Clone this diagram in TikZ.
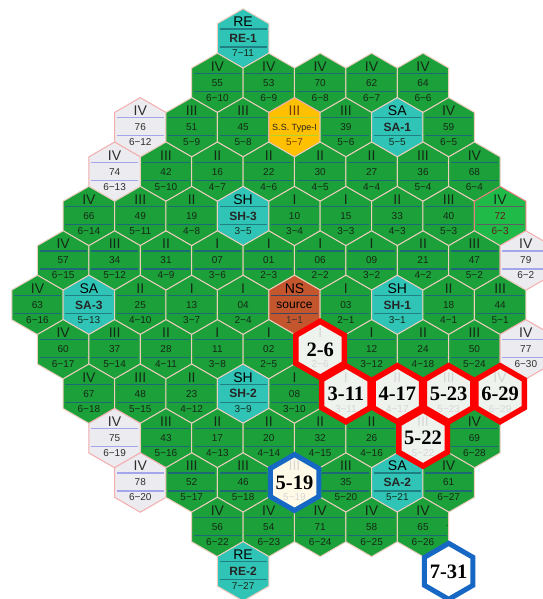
\documentclass[tikz,border=0pt]{standalone}
\usepackage{fontspec}
\setmainfont{Liberation Sans}
\newfontfamily\bigserif{Liberation Serif}
\usetikzlibrary{shapes.geometric}

\definecolor{cgreen}{RGB}{27,160,58}
\definecolor{cedge}{RGB}{238,205,190}
\definecolor{cgsep}{RGB}{30,105,118}
\definecolor{ctxt}{RGB}{22,40,22}
\definecolor{cteal}{RGB}{48,196,182}
\definecolor{ctsep}{RGB}{30,128,130}
\definecolor{cyellow}{RGB}{255,192,0}
\definecolor{cysep}{RGB}{175,212,45}
\definecolor{cybrown}{RGB}{110,60,10}
\definecolor{cns}{RGB}{196,86,45}
\definecolor{cnsep}{RGB}{60,72,95}
\definecolor{cgray}{RGB}{236,236,240}
\definecolor{cpink}{RGB}{244,172,172}
\definecolor{cgrsep}{RGB}{165,165,235}
\definecolor{cgrtxt}{RGB}{45,45,45}
\definecolor{clgreen}{RGB}{32,186,72}
\definecolor{clgedge}{RGB}{232,125,125}
\definecolor{clgsep}{RGB}{95,95,95}
\definecolor{credtxt}{RGB}{95,28,28}
\definecolor{cred}{RGB}{255,0,0}
\definecolor{cblue}{RGB}{22,104,196}
\definecolor{credfill}{RGB}{238,243,238}
\definecolor{ccream}{RGB}{255,250,232}

\tikzset{
  hexbase/.style={regular polygon, regular polygon sides=6, shape border rotate=30,
    minimum size=59.4pt, inner sep=0pt, outer sep=0pt, line width=1pt},
  lbl/.style={inner sep=0pt, text depth=0pt},
  % green
  green hex/.style={hexbase, fill=cgreen, draw=cedge},
  green sep/.style={draw=cgsep, line width=1.1pt},
  green top/.style={lbl, text=ctxt, font=\fontsize{14}{14}\selectfont},
  green mid/.style={lbl, text=ctxt, font=\fontsize{10}{10}\selectfont},
  green bot/.style={lbl, text=ctxt, font=\fontsize{10}{10}\selectfont},
  % light green
  lgreen hex/.style={hexbase, fill=clgreen, draw=clgedge},
  lgreen sep/.style={draw=clgsep, line width=1.3pt},
  lgreen top/.style={lbl, text=ctxt, font=\fontsize{14}{14}\selectfont},
  lgreen mid/.style={lbl, text=credtxt, font=\fontsize{10}{10}\selectfont},
  lgreen bot/.style={lbl, text=credtxt, font=\fontsize{10}{10}\selectfont},
  % gray
  gray hex/.style={hexbase, fill=cgray, draw=cpink},
  gray sep/.style={draw=cgrsep, line width=1.1pt},
  gray top/.style={lbl, text=cgrtxt, font=\fontsize{14}{14}\selectfont},
  gray mid/.style={lbl, text=cgrtxt, font=\fontsize{10}{10}\selectfont},
  gray bot/.style={lbl, text=cgrtxt, font=\fontsize{10}{10}\selectfont},
  % teal
  teal hex/.style={hexbase, fill=cteal, draw=cedge},
  teal sep/.style={draw=ctsep, line width=1.1pt},
  teal top/.style={lbl, text=black, font=\fontsize{14}{14}\selectfont},
  teal mid/.style={lbl, text=black!85, font=\bfseries\fontsize{12}{12}\selectfont},
  teal bot/.style={lbl, text=ctxt, font=\fontsize{10}{10}\selectfont},
  % yellow
  yellow hex/.style={hexbase, fill=cyellow, draw=cpink},
  yellow sep/.style={draw=cysep, line width=1.3pt},
  yellow top/.style={lbl, text=cybrown, font=\fontsize{14}{14}\selectfont},
  yellow mid/.style={lbl, text=black!85, font=\fontsize{9}{9}\selectfont},
  yellow bot/.style={lbl, text=cybrown, font=\fontsize{10}{10}\selectfont},
  % NS source
  ns hex/.style={hexbase, fill=cns, draw=cedge},
  ns sep/.style={draw=cnsep, line width=1.1pt},
  ns top/.style={lbl, text=black, font=\fontsize{14}{14}\selectfont},
  ns mid/.style={lbl, text=black, font=\fontsize{12}{12}\selectfont},
  ns bot/.style={lbl, text=black!80, font=\fontsize{10}{10}\selectfont},
  % highlighted cells
  bigbase/.style={regular polygon, regular polygon sides=6, shape border rotate=30,
    minimum size=56pt, inner sep=0pt, outer sep=0pt},
  red big/.style={bigbase, draw=cred, line width=5.5pt, fill=credfill},
  blue big/.style={bigbase, draw=cblue, line width=5pt, fill=ccream},
  white big/.style={bigbase, draw=cblue, line width=5pt, fill=white},
  faint top/.style={lbl, text=black!16, font=\fontsize{14}{14}\selectfont},
  faint bot/.style={lbl, text=black!16, font=\fontsize{10}{10}\selectfont},
  bigtxt/.style={lbl, text=black, font=\bigserif\bfseries\fontsize{20.5}{20.5}\selectfont},
}

% #1 name, #2 column, #3 row, #4 type, #5 top, #6 middle, #7 bottom
\newcommand\hexcell[7]{%
  \node[#4 hex] (#1) at ({37.5+25.7*#2},{38.5+44.4*#3}) {};
  \draw[#4 sep] ([shift={(-23.5pt,9.5pt)}]#1.center) -- ([shift={(23.5pt,9.5pt)}]#1.center);
  \draw[#4 sep] ([shift={(-23.5pt,-8.5pt)}]#1.center) -- ([shift={(23.5pt,-8.5pt)}]#1.center);
  \node[#4 top] (#1t) at ([yshift=16.5pt]#1.center) {#5};
  \node[#4 mid] (#1m) at (#1.center) {#6};
  \node[#4 bot] (#1b) at ([yshift=-15pt]#1.center) {#7};
}
% #1 name, #2 column, #3 row, #4 type, #5 big label, #6 faint top, #7 faint bottom
\newcommand\bigcell[7]{%
  \node[#4 big] (#1) at ({37.5+25.7*#2},{38.5+44.4*#3}) {};
  \node[faint top] (#1t) at ([yshift=16.5pt]#1.center) {#6};
  \node[faint bot] (#1b) at ([yshift=-15pt]#1.center) {#7};
  \node[bigtxt] (#1m) at (#1.center) {#5};
}

\begin{document}
\begin{tikzpicture}[x=1pt,y=-1pt]
\useasboundingbox (0,0) rectangle (542,599);
\fill[white] (0,0) rectangle (542,599);

% row 0
\hexcell{nRE1}{8}{0}{teal}{RE}{RE-1}{7−11}
% row 1
\hexcell{n55}{7}{1}{green}{IV}{55}{6−10}
\hexcell{n53}{9}{1}{green}{IV}{53}{6−9}
\hexcell{n70}{11}{1}{green}{IV}{70}{6−8}
\hexcell{n62}{13}{1}{green}{IV}{62}{6−7}
\hexcell{n64}{15}{1}{green}{IV}{64}{6−6}
% row 2
\hexcell{n76}{4}{2}{gray}{IV}{76}{6−12}
\hexcell{n51}{6}{2}{green}{III}{51}{5−9}
\hexcell{n45}{8}{2}{green}{III}{45}{5−8}
\hexcell{nSS}{10}{2}{yellow}{III}{S.S. Type-I}{5−7}
\hexcell{n39}{12}{2}{green}{III}{39}{5−6}
\hexcell{nSA1}{14}{2}{teal}{SA}{SA-1}{5−5}
\hexcell{n59}{16}{2}{green}{IV}{59}{6−5}
% row 3
\hexcell{n74}{3}{3}{gray}{IV}{74}{6−13}
\hexcell{n42}{5}{3}{green}{III}{42}{5−10}
\hexcell{n16}{7}{3}{green}{II}{16}{4−7}
\hexcell{n22}{9}{3}{green}{II}{22}{4−6}
\hexcell{n30}{11}{3}{green}{II}{30}{4−5}
\hexcell{n27}{13}{3}{green}{II}{27}{4−4}
\hexcell{n36}{15}{3}{green}{III}{36}{5−4}
\hexcell{n68}{17}{3}{green}{IV}{68}{6−4}
% row 4
\hexcell{n66}{2}{4}{green}{IV}{66}{6−14}
\hexcell{n49}{4}{4}{green}{III}{49}{5−11}
\hexcell{n19}{6}{4}{green}{II}{19}{4−8}
\hexcell{nSH3}{8}{4}{teal}{SH}{SH-3}{3−5}
\hexcell{n10}{10}{4}{green}{I}{10}{3−4}
\hexcell{n15}{12}{4}{green}{I}{15}{3−3}
\hexcell{n33}{14}{4}{green}{II}{33}{4−3}
\hexcell{n40}{16}{4}{green}{III}{40}{5−3}
\hexcell{n72}{18}{4}{lgreen}{IV}{72}{6−3}
% row 5
\hexcell{n57}{1}{5}{green}{IV}{57}{6−15}
\hexcell{n34}{3}{5}{green}{III}{34}{5−12}
\hexcell{n31}{5}{5}{green}{II}{31}{4−9}
\hexcell{n07}{7}{5}{green}{I}{07}{3−6}
\hexcell{n01}{9}{5}{green}{I}{01}{2−3}
\hexcell{n06}{11}{5}{green}{I}{06}{2−2}
\hexcell{n09}{13}{5}{green}{I}{09}{3−2}
\hexcell{n21}{15}{5}{green}{II}{21}{4−2}
\hexcell{n47}{17}{5}{green}{III}{47}{5−2}
\hexcell{n79}{19}{5}{gray}{IV}{79}{6−2}
% row 6
\hexcell{n63}{0}{6}{green}{IV}{63}{6−16}
\hexcell{nSA3}{2}{6}{teal}{SA}{SA-3}{5−13}
\hexcell{n25}{4}{6}{green}{II}{25}{4−10}
\hexcell{n13}{6}{6}{green}{I}{13}{3−7}
\hexcell{n04}{8}{6}{green}{I}{04}{2−4}
\hexcell{nNS}{10}{6}{ns}{NS}{source}{1−1}
\hexcell{n03}{12}{6}{green}{I}{03}{2−1}
\hexcell{nSH1}{14}{6}{teal}{SH}{SH-1}{3−1}
\hexcell{n18}{16}{6}{green}{II}{18}{4−1}
\hexcell{n44}{18}{6}{green}{III}{44}{5−1}
% row 7
\hexcell{n60}{1}{7}{green}{IV}{60}{6−17}
\hexcell{n37}{3}{7}{green}{III}{37}{5−14}
\hexcell{n28}{5}{7}{green}{II}{28}{4−11}
\hexcell{n11}{7}{7}{green}{I}{11}{3−8}
\hexcell{n02}{9}{7}{green}{I}{02}{2−5}
\hexcell{n12}{13}{7}{green}{I}{12}{3−12}
\hexcell{n24}{15}{7}{green}{II}{24}{4−18}
\hexcell{n50}{17}{7}{green}{III}{50}{5−24}
\hexcell{n77}{19}{7}{gray}{IV}{77}{6−30}
% row 8
\hexcell{n67}{2}{8}{green}{IV}{67}{6−18}
\hexcell{n48}{4}{8}{green}{III}{48}{5−15}
\hexcell{n23}{6}{8}{green}{II}{23}{4−12}
\hexcell{nSH2}{8}{8}{teal}{SH}{SH-2}{3−9}
\hexcell{n08}{10}{8}{green}{I}{08}{3−10}
% row 9
\hexcell{n75}{3}{9}{gray}{IV}{75}{6−19}
\hexcell{n43}{5}{9}{green}{III}{43}{5−16}
\hexcell{n17}{7}{9}{green}{II}{17}{4−13}
\hexcell{n20}{9}{9}{green}{II}{20}{4−14}
\hexcell{n32}{11}{9}{green}{II}{32}{4−15}
\hexcell{n26}{13}{9}{green}{II}{26}{4−16}
\hexcell{n69}{17}{9}{green}{IV}{69}{6−28}
% row 10
\hexcell{n78}{4}{10}{gray}{IV}{78}{6−20}
\hexcell{n52}{6}{10}{green}{III}{52}{5−17}
\hexcell{n46}{8}{10}{green}{III}{46}{5−18}
\hexcell{n35}{12}{10}{green}{III}{35}{5−20}
\hexcell{nSA2}{14}{10}{teal}{SA}{SA-2}{5−21}
\hexcell{n61}{16}{10}{green}{IV}{61}{6−27}
% row 11
\hexcell{n56}{7}{11}{green}{IV}{56}{6−22}
\hexcell{n54}{9}{11}{green}{IV}{54}{6−23}
\hexcell{n71}{11}{11}{green}{IV}{71}{6−24}
\hexcell{n58}{13}{11}{green}{IV}{58}{6−25}
\hexcell{n65}{15}{11}{green}{IV}{65}{6−26}
\node[lbl, text=ctxt, font=\fontsize{7}{7}\selectfont] (dash65) at (447,526) {-};
% row 12
\hexcell{nRE2}{8}{12}{teal}{RE}{RE-2}{7−27}

% highlighted cells
\bigcell{h26}{11}{7}{red}{2-6}{I}{2−6}
\bigcell{h311}{12}{8}{red}{3-11}{I}{3−11}
\bigcell{h417}{14}{8}{red}{4-17}{II}{4−17}
\bigcell{h523}{16}{8}{red}{5-23}{III}{5−23}
\bigcell{h629}{18}{8}{red}{6-29}{IV}{6−29}
\bigcell{h522}{15}{9}{red}{5-22}{III}{5−22}
\bigcell{h519}{10}{10}{blue}{5-19}{III}{5−19}
\bigcell{h731}{16}{12}{white}{7-31}{}{}
\end{tikzpicture}
\end{document}
